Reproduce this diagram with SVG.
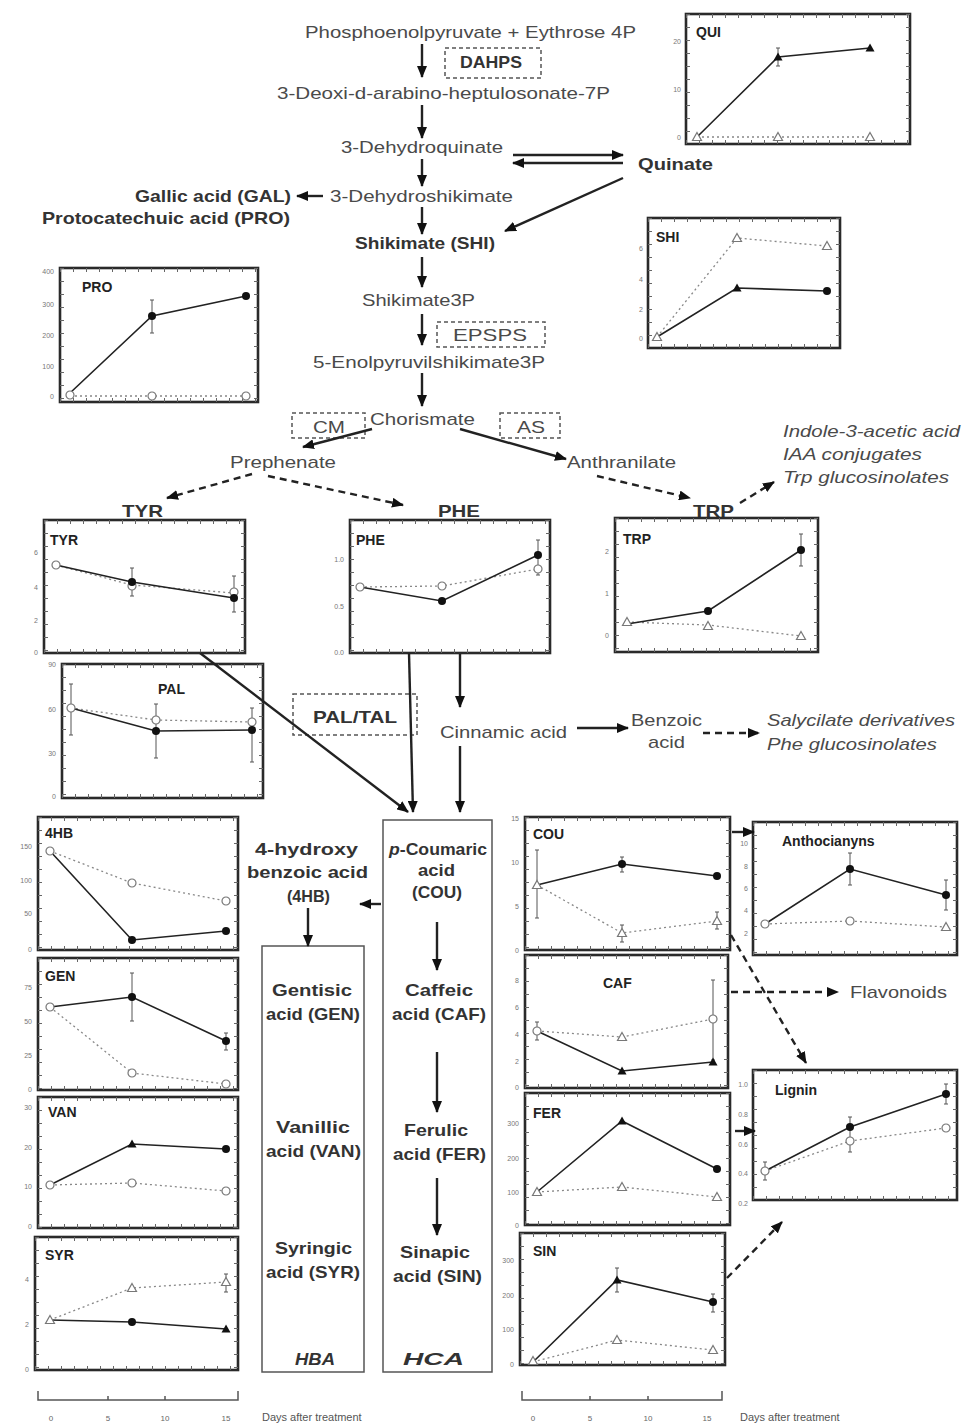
<svg xmlns="http://www.w3.org/2000/svg" xmlns:xlink="http://www.w3.org/1999/xlink" width="965" height="1427" viewBox="0 0 965 1427">
<style>
text{font-family:"Liberation Sans",Arial,sans-serif}
.p{font-size:17px;fill:#4a4a4a}
.b{font-weight:bold;fill:#333}
.i{font-style:italic}
.ax{font-size:7px;fill:#777;text-anchor:end}
.xl{font-size:8px;fill:#666;text-anchor:middle}
.ct{font-size:14px;font-weight:bold;fill:#222}
.fr{fill:#fff;stroke:#2a2a2a;stroke-width:2.6}
.tk{fill:none;stroke:#666;stroke-width:4;stroke-dasharray:1 12}
.s{fill:none;stroke:#222;stroke-width:1.6}
.d{fill:none;stroke:#888;stroke-width:1.3;stroke-dasharray:2 3}
.eb{fill:none;stroke:#555;stroke-width:1}
.c{fill:none;stroke:#222;stroke-width:2.4;marker-end:url(#ah)}
.cd{fill:none;stroke:#222;stroke-width:2.4;stroke-dasharray:7 5;marker-end:url(#ah)}
.ez{fill:none;stroke:#555;stroke-width:1.5;stroke-dasharray:4 3}
</style>
<defs>
<marker id="ah" markerUnits="userSpaceOnUse" markerWidth="12" markerHeight="10" refX="11" refY="5" orient="auto"><path d="M0,0 L12,5 L0,10 z" fill="#111"/></marker>
<path id="ft" d="M0,-4.5 L4.5,3.5 L-4.5,3.5Z" fill="#111"/>
<path id="ot" d="M0,-4.5 L4.5,3.5 L-4.5,3.5Z" fill="#fff" stroke="#777" stroke-width="1.2"/>
<circle id="fc" r="4" fill="#111"/>
<circle id="oc" r="4" fill="#fff" stroke="#777" stroke-width="1.2"/>
</defs>
<rect width="965" height="1427" fill="#fff"/>

<g id="pathway">
<text class="p" x="305" y="38" textLength="331" lengthAdjust="spacingAndGlyphs">Phosphoenolpyruvate + Eythrose 4P</text>
<g id="dahps"><rect class="ez" x="445" y="48" width="96" height="30"/><text class="p b" x="460" y="68" font-size="15" textLength="62" lengthAdjust="spacingAndGlyphs">DAHPS</text></g>
<text class="p" x="277" y="99" textLength="333" lengthAdjust="spacingAndGlyphs">3-Deoxi-d-arabino-heptulosonate-7P</text>
<text class="p" x="341" y="153" textLength="162" lengthAdjust="spacingAndGlyphs">3-Dehydroquinate</text>
<text class="p b" x="638" y="170" textLength="75" lengthAdjust="spacingAndGlyphs">Quinate</text>
<text class="p" x="330" y="202" textLength="183" lengthAdjust="spacingAndGlyphs">3-Dehydroshikimate</text>
<text class="p b" x="135" y="202" textLength="156" lengthAdjust="spacingAndGlyphs">Gallic acid (GAL)</text>
<text class="p b" x="42" y="224" textLength="248" lengthAdjust="spacingAndGlyphs">Protocatechuic acid (PRO)</text>
<text class="p b" x="355" y="249" textLength="140" lengthAdjust="spacingAndGlyphs">Shikimate (SHI)</text>
<text class="p" x="362" y="306" textLength="113" lengthAdjust="spacingAndGlyphs">Shikimate3P</text>
<g id="epsps"><rect class="ez" x="437" y="322" width="108" height="25"/><text class="p" x="453" y="341" textLength="74" lengthAdjust="spacingAndGlyphs">EPSPS</text></g>
<text class="p" x="313" y="368" textLength="232" lengthAdjust="spacingAndGlyphs">5-Enolpyruvilshikimate3P</text>
<text class="p" x="370" y="425" textLength="105" lengthAdjust="spacingAndGlyphs">Chorismate</text>
<g id="cm"><rect class="ez" x="292" y="413" width="73" height="25"/><text class="p" x="313" y="433" textLength="32" lengthAdjust="spacingAndGlyphs">CM</text></g>
<g id="as"><rect class="ez" x="500" y="413" width="60" height="25"/><text class="p" x="517" y="433" textLength="28" lengthAdjust="spacingAndGlyphs">AS</text></g>
<text class="p" x="230" y="468" textLength="106" lengthAdjust="spacingAndGlyphs">Prephenate</text>
<text class="p" x="567" y="468" textLength="109" lengthAdjust="spacingAndGlyphs">Anthranilate</text>
<text class="p b" x="122" y="517" textLength="41" lengthAdjust="spacingAndGlyphs">TYR</text>
<text class="p b" x="438" y="517" textLength="42" lengthAdjust="spacingAndGlyphs">PHE</text>
<text class="p b" x="693" y="517" textLength="41" lengthAdjust="spacingAndGlyphs">TRP</text>
<text class="p i" x="783" y="437" textLength="177" lengthAdjust="spacingAndGlyphs">Indole-3-acetic acid</text>
<text class="p i" x="783" y="460" textLength="139" lengthAdjust="spacingAndGlyphs">IAA conjugates</text>
<text class="p i" x="783" y="483" textLength="166" lengthAdjust="spacingAndGlyphs">Trp glucosinolates</text>
<g id="paltal"><rect class="ez" x="293" y="694" width="124" height="41"/><text class="p b" x="313" y="723" textLength="84" lengthAdjust="spacingAndGlyphs">PAL/TAL</text></g>
<text class="p" x="440" y="738" textLength="127" lengthAdjust="spacingAndGlyphs">Cinnamic acid</text>
<text class="p" x="631" y="726" textLength="71" lengthAdjust="spacingAndGlyphs">Benzoic</text>
<text class="p" x="648" y="748" textLength="37" lengthAdjust="spacingAndGlyphs">acid</text>
<text class="p i" x="767" y="726" textLength="188" lengthAdjust="spacingAndGlyphs">Salycilate derivatives</text>
<text class="p i" x="767" y="750" textLength="170" lengthAdjust="spacingAndGlyphs">Phe glucosinolates</text>
<text class="p b" x="255" y="855" textLength="103" lengthAdjust="spacingAndGlyphs">4-hydroxy</text>
<text class="p b" x="247" y="878" textLength="121" lengthAdjust="spacingAndGlyphs">benzoic acid</text>
<text class="p b" x="287" y="902" textLength="43" lengthAdjust="spacingAndGlyphs">(4HB)</text>
<text class="p" x="850" y="998" textLength="97" lengthAdjust="spacingAndGlyphs">Flavonoids</text>
</g>

<g id="hba">
<rect x="262" y="946" width="102" height="426" fill="none" stroke="#555" stroke-width="1.5"/>
<text class="p b" x="272" y="996" textLength="80" lengthAdjust="spacingAndGlyphs">Gentisic</text>
<text class="p b" x="266" y="1020" textLength="94" lengthAdjust="spacingAndGlyphs">acid (GEN)</text>
<text class="p b" x="276" y="1133" textLength="74" lengthAdjust="spacingAndGlyphs">Vanillic</text>
<text class="p b" x="266" y="1157" textLength="95" lengthAdjust="spacingAndGlyphs">acid (VAN)</text>
<text class="p b" x="275" y="1254" textLength="77" lengthAdjust="spacingAndGlyphs">Syringic</text>
<text class="p b" x="266" y="1278" textLength="94" lengthAdjust="spacingAndGlyphs">acid (SYR)</text>
<text class="p b i" x="295" y="1365" textLength="40" lengthAdjust="spacingAndGlyphs">HBA</text>
</g>
<g id="hca">
<rect x="383" y="820" width="109" height="552" fill="none" stroke="#555" stroke-width="1.5"/>
<text class="p b" x="389" y="855" font-size="15" textLength="98" lengthAdjust="spacingAndGlyphs"><tspan font-style="italic">p</tspan>-Coumaric</text>
<text class="p b" x="418" y="876" font-size="15" textLength="37" lengthAdjust="spacingAndGlyphs">acid</text>
<text class="p b" x="412" y="898" font-size="15" textLength="50" lengthAdjust="spacingAndGlyphs">(COU)</text>
<text class="p b" x="405" y="996" textLength="68" lengthAdjust="spacingAndGlyphs">Caffeic</text>
<text class="p b" x="392" y="1020" textLength="94" lengthAdjust="spacingAndGlyphs">acid (CAF)</text>
<text class="p b" x="404" y="1136" textLength="64" lengthAdjust="spacingAndGlyphs">Ferulic</text>
<text class="p b" x="393" y="1160" textLength="93" lengthAdjust="spacingAndGlyphs">acid (FER)</text>
<text class="p b" x="400" y="1258" textLength="70" lengthAdjust="spacingAndGlyphs">Sinapic</text>
<text class="p b" x="393" y="1282" textLength="89" lengthAdjust="spacingAndGlyphs">acid (SIN)</text>
<text class="p b i" x="403" y="1365" textLength="61" lengthAdjust="spacingAndGlyphs">HCA</text>
</g>

<g id="chart-qui">
<rect class="fr" x="686" y="14" width="224" height="130"/>
<path class="tk" d="M686,142 h224 M686,16 h224 M688,14 v130 M908,14 v130"/>
<text class="ct" x="696" y="37">QUI</text>
<text class="ax" x="681" y="44">20</text><text class="ax" x="681" y="92">10</text><text class="ax" x="681" y="140">0</text>
<path class="d" d="M697,137 L778,137 L870,137"/>
<path class="s" d="M697,137 L778,57 L870,48"/>
<path class="eb" d="M778,48 V66 M776,48 h4 M776,66 h4"/>
<use href="#ot" x="697" y="137"/><use href="#ot" x="778" y="137"/><use href="#ot" x="870" y="137"/>
<use href="#ft" x="778" y="57"/><use href="#ft" x="870" y="48"/>
</g>

<g id="chart-pro">
<rect class="fr" x="60" y="268" width="198" height="134"/>
<path class="tk" d="M60,400 h198 M60,270 h198 M62,268 v134 M256,268 v134"/>
<text class="ct" x="82" y="292">PRO</text>
<text class="ax" x="54" y="274">400</text><text class="ax" x="54" y="307">300</text><text class="ax" x="54" y="338">200</text><text class="ax" x="54" y="369">100</text><text class="ax" x="54" y="399">0</text>
<path class="d" d="M70,396 L152,396 L246,396"/>
<path class="s" d="M70,393 L152,316 L246,296"/>
<path class="eb" d="M152,300 V333 M150,300 h4 M150,333 h4"/>
<use href="#oc" x="70" y="395"/><use href="#oc" x="152" y="396"/><use href="#oc" x="246" y="396"/>
<use href="#fc" x="152" y="316"/><use href="#fc" x="246" y="296"/>
</g>

<g id="chart-shi">
<rect class="fr" x="648" y="218" width="192" height="130"/>
<path class="tk" d="M648,346 h192 M648,220 h192 M650,218 v130 M838,218 v130"/>
<text class="ct" x="656" y="242">SHI</text>
<text class="ax" x="643" y="251">6</text><text class="ax" x="643" y="282">4</text><text class="ax" x="643" y="312">2</text><text class="ax" x="643" y="341">0</text>
<path class="d" d="M657,337 L737,238 L827,246"/>
<path class="s" d="M657,337 L737,288 L827,291"/>
<use href="#ot" x="657" y="337"/><use href="#ot" x="737" y="238"/><use href="#ot" x="827" y="246"/>
<use href="#ft" x="737" y="288"/><use href="#fc" x="827" y="291"/>
</g>

<g id="chart-tyr">
<rect class="fr" x="44" y="520" width="201" height="133"/>
<path class="tk" d="M44,651 h201 M44,522 h201 M46,520 v133 M243,520 v133"/>
<text class="ct" x="50" y="545" font-size="13">TYR</text>
<text class="ax" x="38" y="555">6</text><text class="ax" x="38" y="590">4</text><text class="ax" x="38" y="623">2</text><text class="ax" x="38" y="655">0</text>
<path class="d" d="M56,565 L132,585 L234,593"/>
<path class="s" d="M56,565 L132,582 L234,598"/>
<path class="eb" d="M132,568 V596 M130,568 h4 M130,596 h4 M234,576 V612 M232,576 h4 M232,612 h4"/>
<use href="#oc" x="56" y="565"/><use href="#oc" x="132" y="586"/><use href="#oc" x="234" y="592"/>
<use href="#fc" x="132" y="582"/><use href="#fc" x="234" y="598"/>
</g>

<g id="chart-phe">
<rect class="fr" x="350" y="520" width="200" height="133"/>
<path class="tk" d="M350,651 h200 M350,522 h200 M352,520 v133 M548,520 v133"/>
<text class="ct" x="356" y="545" font-size="13">PHE</text>
<text class="ax" x="344" y="562">1.0</text><text class="ax" x="344" y="609">0.5</text><text class="ax" x="344" y="655">0.0</text>
<path class="d" d="M360,587 L442,586 L538,569"/>
<path class="s" d="M360,587 L442,601 L538,555"/>
<path class="eb" d="M538,540 V575 M536,540 h4 M536,575 h4"/>
<use href="#oc" x="360" y="587"/><use href="#oc" x="442" y="586"/><use href="#oc" x="538" y="569"/>
<use href="#fc" x="442" y="601"/><use href="#fc" x="538" y="555"/>
</g>

<g id="chart-trp">
<rect class="fr" x="615" y="518" width="203" height="134"/>
<path class="tk" d="M615,650 h203 M615,520 h203 M617,518 v134 M816,518 v134"/>
<text class="ct" x="623" y="544" font-size="13">TRP</text>
<text class="ax" x="609" y="554">2</text><text class="ax" x="609" y="596">1</text><text class="ax" x="609" y="638">0</text>
<path class="d" d="M627,622 L708,625 L801,636"/>
<path class="s" d="M627,624 L708,611 L801,550"/>
<path class="eb" d="M801,534 V566 M799,534 h4 M799,566 h4"/>
<use href="#ot" x="627" y="622"/><use href="#ot" x="708" y="626"/><use href="#ot" x="801" y="636"/>
<use href="#fc" x="708" y="611"/><use href="#fc" x="801" y="550"/>
</g>

<g id="chart-pal">
<rect class="fr" x="62" y="664" width="201" height="134"/>
<path class="tk" d="M62,796 h201 M62,666 h201 M64,664 v134 M261,664 v134"/>
<text class="ct" x="158" y="694" font-size="15">PAL</text>
<text class="ax" x="56" y="667">90</text><text class="ax" x="56" y="712">60</text><text class="ax" x="56" y="756">30</text><text class="ax" x="56" y="799">0</text>
<path class="d" d="M71,708 L156,720 L252,722"/>
<path class="s" d="M71,708 L156,731 L252,730"/>
<path class="eb" d="M71,684 V735 M69,684 h4 M69,735 h4 M156,704 V758 M154,704 h4 M154,758 h4 M252,708 V762 M250,708 h4 M250,762 h4"/>
<use href="#oc" x="71" y="708"/><use href="#oc" x="156" y="720"/><use href="#oc" x="252" y="722"/>
<use href="#fc" x="156" y="731"/><use href="#fc" x="252" y="730"/>
</g>

<g id="chart-4hb">
<rect class="fr" x="38" y="817" width="200" height="133"/>
<path class="tk" d="M38,948 h200 M38,819 h200 M40,817 v133 M236,817 v133"/>
<text class="ct" x="45" y="838" font-size="13">4HB</text>
<text class="ax" x="32" y="849">150</text><text class="ax" x="32" y="883">100</text><text class="ax" x="32" y="916">50</text><text class="ax" x="32" y="952">0</text>
<path class="d" d="M50,851 L132,883 L226,901"/>
<path class="s" d="M50,851 L132,940 L226,931"/>
<use href="#oc" x="50" y="851"/><use href="#oc" x="132" y="883"/><use href="#oc" x="226" y="901"/>
<use href="#fc" x="132" y="940"/><use href="#fc" x="226" y="931"/>
</g>

<g id="chart-gen">
<rect class="fr" x="38" y="958" width="200" height="132"/>
<path class="tk" d="M38,1088 h200 M38,960 h200 M40,958 v132 M236,958 v132"/>
<text class="ct" x="45" y="981" font-size="13">GEN</text>
<text class="ax" x="32" y="990">75</text><text class="ax" x="32" y="1024">50</text><text class="ax" x="32" y="1058">25</text><text class="ax" x="32" y="1092">0</text>
<path class="d" d="M50,1007 L132,1073 L226,1084"/>
<path class="s" d="M50,1007 L132,997 L226,1041"/>
<path class="eb" d="M132,973 V1021 M130,973 h4 M130,1021 h4 M226,1033 V1050 M224,1033 h4 M224,1050 h4"/>
<use href="#oc" x="50" y="1007"/><use href="#oc" x="132" y="1073"/><use href="#oc" x="226" y="1084"/>
<use href="#fc" x="132" y="997"/><use href="#fc" x="226" y="1041"/>
</g>

<g id="chart-van">
<rect class="fr" x="38" y="1097" width="200" height="131"/>
<path class="tk" d="M38,1226 h200 M38,1099 h200 M40,1097 v131 M236,1097 v131"/>
<text class="ct" x="48" y="1117" font-size="13">VAN</text>
<text class="ax" x="32" y="1110">30</text><text class="ax" x="32" y="1150">20</text><text class="ax" x="32" y="1189">10</text><text class="ax" x="32" y="1229">0</text>
<path class="d" d="M50,1185 L132,1183 L226,1191"/>
<path class="s" d="M50,1185 L132,1144 L226,1149"/>
<use href="#oc" x="50" y="1185"/><use href="#oc" x="132" y="1183"/><use href="#oc" x="226" y="1191"/>
<use href="#ft" x="132" y="1144"/><use href="#fc" x="226" y="1149"/>
</g>

<g id="chart-syr">
<rect class="fr" x="35" y="1237" width="203" height="133"/>
<path class="tk" d="M35,1368 h203 M35,1239 h203 M37,1237 v133 M236,1237 v133"/>
<text class="ct" x="45" y="1260" font-size="13">SYR</text>
<text class="ax" x="29" y="1282">4</text><text class="ax" x="29" y="1327">2</text><text class="ax" x="29" y="1372">0</text>
<path class="d" d="M50,1320 L132,1288 L226,1282"/>
<path class="s" d="M50,1320 L132,1322 L226,1329"/>
<path class="eb" d="M226,1274 V1292 M224,1274 h4 M224,1292 h4"/>
<use href="#ot" x="50" y="1320"/><use href="#ot" x="132" y="1288"/><use href="#ot" x="226" y="1282"/>
<use href="#fc" x="132" y="1322"/><use href="#ft" x="226" y="1329"/>
</g>

<g id="xaxis-left">
<path d="M38,1391 V1400 H238 V1391 M108,1400 v-4 M165,1400 v-4" fill="none" stroke="#555" stroke-width="1.5"/>
<text class="xl" x="51" y="1421">0</text><text class="xl" x="108" y="1421">5</text><text class="xl" x="165" y="1421">10</text><text class="xl" x="226" y="1421">15</text>
<text x="262" y="1421" font-size="11" fill="#555">Days after treatment</text>
</g>

<g id="chart-cou">
<rect class="fr" x="525" y="817" width="205" height="133"/>
<path class="tk" d="M525,948 h205 M525,819 h205 M527,817 v133 M728,817 v133"/>
<text class="ct" x="533" y="839" font-size="13">COU</text>
<text class="ax" x="519" y="821">15</text><text class="ax" x="519" y="865">10</text><text class="ax" x="519" y="909">5</text><text class="ax" x="519" y="953">0</text>
<path class="d" d="M537,885 L622,933 L717,921"/>
<path class="s" d="M537,885 L622,864 L717,876"/>
<path class="eb" d="M537,850 V918 M535,850 h4 M535,918 h4 M622,857 V872 M620,857 h4 M620,872 h4 M622,925 V942 M620,925 h4 M620,942 h4 M717,912 V929 M715,912 h4 M715,929 h4"/>
<use href="#ot" x="537" y="885"/><use href="#ot" x="622" y="933"/><use href="#ot" x="717" y="921"/>
<use href="#fc" x="622" y="864"/><use href="#fc" x="717" y="876"/>
</g>

<g id="chart-caf">
<rect class="fr" x="525" y="955" width="203" height="133"/>
<path class="tk" d="M525,1086 h203 M525,957 h203 M527,955 v133 M726,955 v133"/>
<text class="ct" x="603" y="988" font-size="15">CAF</text>
<text class="ax" x="519" y="983">8</text><text class="ax" x="519" y="1010">6</text><text class="ax" x="519" y="1037">4</text><text class="ax" x="519" y="1064">2</text><text class="ax" x="519" y="1090">0</text>
<path class="d" d="M537,1031 L622,1037 L713,1019"/>
<path class="s" d="M537,1031 L622,1071 L713,1062"/>
<path class="eb" d="M713,980 V1060 M711,980 h4 M711,1060 h4 M537,1022 V1040 M535,1022 h4 M535,1040 h4"/>
<use href="#oc" x="537" y="1031"/><use href="#ot" x="622" y="1037"/><use href="#oc" x="713" y="1019"/>
<use href="#ft" x="622" y="1071"/><use href="#ft" x="713" y="1062"/>
</g>

<g id="chart-fer">
<rect class="fr" x="525" y="1093" width="205" height="132"/>
<path class="tk" d="M525,1223 h205 M525,1095 h205 M527,1093 v132 M728,1093 v132"/>
<text class="ct" x="533" y="1118" font-size="13">FER</text>
<text class="ax" x="519" y="1126">300</text><text class="ax" x="519" y="1161">200</text><text class="ax" x="519" y="1195">100</text><text class="ax" x="519" y="1228">0</text>
<path class="d" d="M537,1192 L622,1187 L717,1197"/>
<path class="s" d="M537,1192 L622,1121 L717,1169"/>
<use href="#ot" x="537" y="1192"/><use href="#ot" x="622" y="1187"/><use href="#ot" x="717" y="1197"/>
<use href="#ft" x="622" y="1121"/><use href="#fc" x="717" y="1169"/>
</g>

<g id="chart-sin">
<rect class="fr" x="520" y="1233" width="205" height="132"/>
<path class="tk" d="M520,1363 h205 M520,1235 h205 M522,1233 v132 M723,1233 v132"/>
<text class="ct" x="533" y="1256" font-size="13">SIN</text>
<text class="ax" x="514" y="1263">300</text><text class="ax" x="514" y="1298">200</text><text class="ax" x="514" y="1332">100</text><text class="ax" x="514" y="1367">0</text>
<path class="d" d="M533,1362 L617,1340 L713,1350"/>
<path class="s" d="M533,1362 L617,1280 L713,1302"/>
<path class="eb" d="M617,1268 V1292 M615,1268 h4 M615,1292 h4 M713,1294 V1312 M711,1294 h4 M711,1312 h4"/>
<use href="#ot" x="533" y="1361"/><use href="#ot" x="617" y="1340"/><use href="#ot" x="713" y="1350"/>
<use href="#ft" x="617" y="1280"/><use href="#fc" x="713" y="1302"/>
</g>

<g id="xaxis-right">
<path d="M522,1391 V1400 H722 V1391 M590,1400 v-4 M648,1400 v-4" fill="none" stroke="#555" stroke-width="1.5"/>
<text class="xl" x="533" y="1421">0</text><text class="xl" x="590" y="1421">5</text><text class="xl" x="648" y="1421">10</text><text class="xl" x="707" y="1421">15</text>
<text x="740" y="1421" font-size="11" fill="#555">Days after treatment</text>
</g>

<g id="chart-antho">
<rect class="fr" x="753" y="822" width="204" height="133"/>
<path class="tk" d="M753,953 h204 M753,824 h204 M755,822 v133 M955,822 v133"/>
<text class="ct" x="782" y="846">Anthocianyns</text>
<text class="ax" x="748" y="846">10</text><text class="ax" x="748" y="869">8</text><text class="ax" x="748" y="891">6</text><text class="ax" x="748" y="913">4</text><text class="ax" x="748" y="936">2</text>
<path class="d" d="M765,924 L850,921 L946,927"/>
<path class="s" d="M765,924 L850,869 L946,895"/>
<path class="eb" d="M850,853 V885 M848,853 h4 M848,885 h4 M946,880 V910 M944,880 h4 M944,910 h4"/>
<use href="#oc" x="765" y="924"/><use href="#oc" x="850" y="921"/><use href="#ot" x="946" y="927"/>
<use href="#fc" x="850" y="869"/><use href="#fc" x="946" y="895"/>
</g>

<g id="chart-lignin">
<rect class="fr" x="753" y="1070" width="204" height="130"/>
<path class="tk" d="M753,1198 h204 M753,1072 h204 M755,1070 v130 M955,1070 v130"/>
<text class="ct" x="775" y="1095">Lignin</text>
<text class="ax" x="748" y="1087">1.0</text><text class="ax" x="748" y="1117">0.8</text><text class="ax" x="748" y="1147">0.6</text><text class="ax" x="748" y="1176">0.4</text><text class="ax" x="748" y="1206">0.2</text>
<path class="d" d="M765,1171 L850,1141 L946,1128"/>
<path class="s" d="M765,1171 L850,1127 L946,1094"/>
<path class="eb" d="M765,1162 V1180 M763,1162 h4 M763,1180 h4 M850,1117 V1152 M848,1117 h4 M848,1152 h4 M946,1084 V1104 M944,1084 h4 M944,1104 h4"/>
<use href="#oc" x="765" y="1171"/><use href="#oc" x="850" y="1141"/><use href="#oc" x="946" y="1128"/>
<use href="#fc" x="850" y="1127"/><use href="#fc" x="946" y="1094"/>
</g>

<g id="connectors">
<line class="c" x1="422" y1="44" x2="422" y2="77"/>
<line class="c" x1="422" y1="105" x2="422" y2="138"/>
<line class="c" x1="422" y1="159" x2="422" y2="186"/>
<line class="c" x1="422" y1="207" x2="422" y2="234"/>
<line class="c" x1="422" y1="257" x2="422" y2="287"/>
<line class="c" x1="422" y1="314" x2="422" y2="345"/>
<line class="c" x1="422" y1="373" x2="422" y2="406"/>
<line class="c" x1="513" y1="155" x2="623" y2="155"/>
<line class="c" x1="623" y1="163" x2="513" y2="163"/>
<line class="c" x1="623" y1="178" x2="505" y2="231"/>
<line class="c" x1="323" y1="196" x2="297" y2="196"/>
<line class="c" x1="372" y1="429" x2="303" y2="447"/>
<line class="c" x1="460" y1="429" x2="566" y2="459"/>
<line class="cd" x1="252" y1="474" x2="167" y2="498"/>
<line class="cd" x1="268" y1="476" x2="403" y2="505"/>
<line class="cd" x1="597" y1="476" x2="690" y2="498"/>
<line class="cd" x1="740" y1="503" x2="774" y2="482"/>
<line class="c" x1="200" y1="653" x2="408" y2="812"/>
<line class="c" x1="409" y1="653" x2="413" y2="812"/>
<line class="c" x1="460" y1="654" x2="460" y2="707"/>
<line class="c" x1="460" y1="746" x2="460" y2="812"/>
<line class="c" x1="577" y1="728" x2="628" y2="728"/>
<line class="cd" x1="703" y1="733" x2="759" y2="733"/>
<line class="c" x1="381" y1="904" x2="360" y2="904"/>
<line class="c" x1="308" y1="908" x2="308" y2="946"/>
<line class="c" x1="437" y1="922" x2="437" y2="970"/>
<line class="c" x1="437" y1="1052" x2="437" y2="1112"/>
<line class="c" x1="437" y1="1178" x2="437" y2="1235"/>
<line class="c" x1="732" y1="832" x2="754" y2="832"/>
<line class="cd" x1="731" y1="992" x2="838" y2="992"/>
<line class="cd" x1="731" y1="935" x2="806" y2="1063"/>
<line class="c" x1="735" y1="1131" x2="755" y2="1131"/>
<line class="cd" x1="727" y1="1278" x2="782" y2="1222"/>
</g>
</svg>
